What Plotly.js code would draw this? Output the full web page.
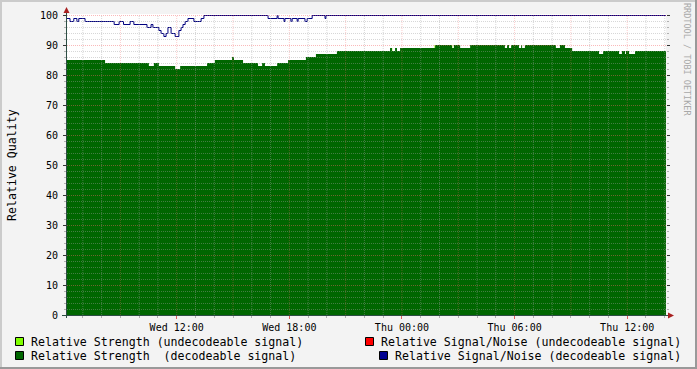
<!DOCTYPE html>
<html><head><meta charset="utf-8">
<script src="https://cdn.plot.ly/plotly-3.0.1.min.js"></script>
<style>html,body{margin:0;padding:0;background:#F3F3F3;overflow:hidden;}</style>
</head><body><div id="chart" style="width:697px;height:369px;"></div>
<script>
// Relative Strength (decodeable signal) - step changes
const strengthTimes = [
 '2024-01-03 06:09','2024-01-03 08:11','2024-01-03 10:31','2024-01-03 10:47','2024-01-03 11:03',
 '2024-01-03 11:55','2024-01-03 12:11','2024-01-03 13:37','2024-01-03 14:02','2024-01-03 14:57',
 '2024-01-03 15:03','2024-01-03 15:32','2024-01-03 16:20','2024-01-03 16:33','2024-01-03 16:42',
 '2024-01-03 17:21','2024-01-03 17:56','2024-01-03 18:53','2024-01-03 19:25','2024-01-03 19:57',
 '2024-01-03 20:32','2024-01-03 23:22','2024-01-03 23:28','2024-01-03 23:38','2024-01-03 23:44',
 '2024-01-03 23:54','2024-01-04 01:46','2024-01-04 02:40','2024-01-04 02:46','2024-01-04 03:06',
 '2024-01-04 03:38','2024-01-04 05:29','2024-01-04 05:36','2024-01-04 05:42','2024-01-04 05:49',
 '2024-01-04 06:14','2024-01-04 06:21','2024-01-04 06:24','2024-01-04 06:33','2024-01-04 08:12',
 '2024-01-04 08:25','2024-01-04 08:41','2024-01-04 09:04','2024-01-04 10:30','2024-01-04 10:43',
 '2024-01-04 11:34','2024-01-04 11:43','2024-01-04 11:53','2024-01-04 11:56','2024-01-04 12:06',
 '2024-01-04 12:25','2024-01-04 14:04'];
const strengthValues = [
 85,84,83,84,83,
 82,83,84,85,86,
 85,84,83,84,83,
 84,85,86,87,87,
 88,89,88,89,88,
 89,90,89,90,89,
 90,89,90,89,90,
 89,90,89,90,89,
 90,89,88,87,88,
 87,88,87,88,87,
 88,88];

// Relative Signal/Noise (decodeable signal) - step changes
const snrTimes = [
 '2024-01-03 06:09','2024-01-03 06:19','2024-01-03 06:31','2024-01-03 06:41','2024-01-03 06:47',
 '2024-01-03 07:07','2024-01-03 08:40','2024-01-03 08:56','2024-01-03 09:10','2024-01-03 09:31',
 '2024-01-03 09:43','2024-01-03 10:25','2024-01-03 10:38','2024-01-03 10:44','2024-01-03 11:03',
 '2024-01-03 11:10','2024-01-03 11:19','2024-01-03 11:26','2024-01-03 11:32','2024-01-03 11:42',
 '2024-01-03 11:55','2024-01-03 12:07','2024-01-03 12:14','2024-01-03 12:20','2024-01-03 12:27',
 '2024-01-03 12:36','2024-01-03 12:55','2024-01-03 13:18','2024-01-03 13:27','2024-01-03 16:52',
 '2024-01-03 17:21','2024-01-03 17:24','2024-01-03 17:43','2024-01-03 17:46','2024-01-03 18:05',
 '2024-01-03 18:09','2024-01-03 18:25','2024-01-03 18:28','2024-01-03 18:50','2024-01-03 18:57',
 '2024-01-03 19:13','2024-01-03 19:54','2024-01-03 19:57','2024-01-04 14:04'];
const snrValues = [
 99,98,99,98,99,
 98,97,98,97,98,
 97,96,97,96,95,
 94,93,94,96,94,
 93,95,96,97,98,
 99,98,99,100,99,
 100,99,98,99,98,
 99,98,99,98,99,
 100,99,100,100];

// Relative Strength (undecodeable signal) - short spikes
const undecTimes = ['2024-01-03 23:26','2024-01-03 23:29','2024-01-04 01:44','2024-01-04 01:47',
 '2024-01-04 02:38','2024-01-04 02:41','2024-01-04 05:51','2024-01-04 05:54'];
const undecValues = [89,0,90,0,90,0,90,0];

// Tick labels
const xTickVals = ['2024-01-03 12:00','2024-01-03 18:00','2024-01-04 00:00','2024-01-04 06:00','2024-01-04 12:00'];
const xTickText = ['Wed 12:00','Wed 18:00','Thu 00:00','Thu 06:00','Thu 12:00'];
const yTickVals = [0,10,20,30,40,50,60,70,80,90,100];

const legendLabels = ['Relative Strength (undecodeable signal)','Relative Signal/Noise (undecodeable signal)',
 'Relative Strength\u00a0\u00a0(decodeable signal)','Relative Signal/Noise (decodeable signal)'];
const legendColors = ['#80FF00','#FF0000','#006600','#000090'];

const FONT = 'DejaVu Sans Mono, monospace';
const PL = 67, PR = 666, PT = 14, PB = 315; // plot area pixels
const px = v => (v - PL) / (PR - PL);
const py = v => (PB - v) / (PB - PT);
const YMAX = 100 + 1/3;

const traces = [
 {x: undecTimes, y: undecValues, type:'scatter', mode:'lines', line:{shape:'hv', width:0, color:'#80FF00'},
  fill:'tozeroy', fillcolor:'#80FF00', showlegend:false, hoverinfo:'skip'},
 {x: strengthTimes, y: strengthValues, type:'scatter', mode:'lines', line:{shape:'hv', width:0, color:'#006600'},
  fill:'tozeroy', fillcolor:'#006600', showlegend:false},
 {x: snrTimes, y: snrValues, type:'scatter', mode:'lines', yaxis:'y2', line:{shape:'hv', width:1, color:'#000080'},
  showlegend:false}
];

const shapes = [];
const minorCol = 'rgba(160,160,160,0.42)';
const majorColH = 'rgba(245,100,100,0.45)';
const majorColV = 'rgba(245,100,100,0.32)';
// grid (drawn above the area, like rrdtool)
const t0 = Date.UTC(2024,0,3,7), t1 = Date.UTC(2024,0,4,14);
for (let t = t0; t <= t1; t += 3600000) {
  const h = new Date(t).getUTCHours();
  const major = h % 3 === 0;
  shapes.push({type:'line', layer:'above', xref:'x', yref:'y', x0:t, x1:t, y0:0, y1:100,
    line:{color: major ? majorColV : minorCol, width:1, dash:'1px,1px'}});
}
for (let v = 2; v <= 100; v += 2) {
  const major = v % 10 === 0;
  shapes.push({type:'line', layer:'above', xref:'paper', yref:'y', x0:0, x1:1, y0:v - 1/6, y1:v - 1/6,
    line:{color: major ? majorColH : minorCol, width:1, dash:'1px,1px'}});
}
// axes lines and arrows
shapes.push({type:'line', layer:'above', xref:'paper', yref:'paper', x0:px(66.5), x1:px(66.5), y0:py(318), y1:py(10),
  line:{color:'#2C4D43', width:1}});
shapes.push({type:'line', layer:'above', xref:'paper', yref:'paper', x0:px(62), x1:px(670), y0:py(315.5), y1:py(315.5),
  line:{color:'#2C4D43', width:1}});
shapes.push({type:'path', layer:'above', xref:'paper', yref:'paper',
  path:`M ${px(63.5)} ${py(13)} L ${px(69.5)} ${py(13)} L ${px(66.5)} ${py(7)} Z`,
  fillcolor:'#A82020', line:{width:0}});
shapes.push({type:'path', layer:'above', xref:'paper', yref:'paper',
  path:`M ${px(668)} ${py(312.5)} L ${px(668)} ${py(318.5)} L ${px(674)} ${py(315.5)} Z`,
  fillcolor:'#A82020', line:{width:0}});
// legend boxes
const boxPos = [[15,337],[365,337],[15,351],[379,351]];
boxPos.forEach((b,i) => {
  shapes.push({type:'rect', xref:'paper', yref:'paper', x0:px(b[0]+0.5), x1:px(b[0]+8.5), y0:py(b[1]+0.5), y1:py(b[1]+8.5),
    fillcolor: legendColors[i], line:{color:'#000', width:1}});
});
// frame
shapes.push({type:'rect', xref:'paper', yref:'paper', x0:px(0), x1:px(697), y0:py(0), y1:py(2), fillcolor:'#CBCBCB', line:{width:0}});
shapes.push({type:'rect', xref:'paper', yref:'paper', x0:px(0), x1:px(2), y0:py(0), y1:py(369), fillcolor:'#CBCBCB', line:{width:0}});
shapes.push({type:'rect', xref:'paper', yref:'paper', x0:px(695), x1:px(697), y0:py(0), y1:py(369), fillcolor:'#999999', line:{width:0}});
shapes.push({type:'rect', xref:'paper', yref:'paper', x0:px(0), x1:px(697), y0:py(367), y1:py(369), fillcolor:'#999999', line:{width:0}});

const textX = [30, 380, 30, 394];
const textY = [341.5, 341.5, 355.5, 355.5];
const annotations = legendLabels.map((t,i) => ({
  text: t, xref:'paper', yref:'paper', x: px(textX[i]), y: py(textY[i]), xanchor:'left', yanchor:'middle',
  showarrow:false, borderpad:0, font:{family:FONT, size:11.6, color:'#000'}
}));
annotations.push({text:'Relative Quality', xref:'paper', yref:'paper', x:px(12), y:py(165), textangle:-90,
  xanchor:'center', yanchor:'middle', showarrow:false, font:{family:FONT, size:11.6, color:'#000'}});
annotations.push({text:'RRDTOOL / TOBI OETIKER', xref:'paper', yref:'paper', x:px(687), y:py(59), textangle:90,
  xanchor:'center', yanchor:'middle', showarrow:false, font:{family:FONT, size:8.5, color:'#A8A8A8'}});

const layout = {
  width:697, height:369,
  margin:{l:PL, r:697-PR, t:PT, b:369-PB, pad:0},
  paper_bgcolor:'#F3F3F3', plot_bgcolor:'#FFFFFF',
  showlegend:false,
  font:{family:FONT, size:10, color:'#000'},
  xaxis:{type:'date', range:['2024-01-03 06:09:18','2024-01-04 14:04:00'],
    tickvals:xTickVals, ticktext:xTickText, showgrid:false, zeroline:false, showline:false,
    ticks:'outside', ticklen:3, tickcolor:'#E06060', tickfont:{family:FONT, size:10, color:'#000'},
    minor:{dtick:3600000, tick0:'2024-01-03 00:00', ticks:'outside', ticklen:2, tickcolor:'#B0B0B0', showgrid:false},
    fixedrange:true},
  yaxis:{range:[0, YMAX], tickvals:yTickVals, showgrid:false, zeroline:false, showline:false,
    ticks:'outside', ticklen:3, tickcolor:'#333', mirror:'ticks', ticklabelstandoff:3,
    tickfont:{family:FONT, size:10, color:'#000'},
    minor:{dtick:2, tick0:0, ticks:'outside', ticklen:2, tickcolor:'#B0B0B0', showgrid:false},
    fixedrange:true},
  // same scale as yaxis, shifted half a pixel so the 1px line sits on pixel rows like rrdtool
  yaxis2:{overlaying:'y', range:[1/6, YMAX + 1/6], visible:false, fixedrange:true},
  shapes: shapes,
  annotations: annotations
};

Plotly.newPlot('chart', traces, layout, {displayModeBar:false, staticPlot:true});
</script>
</body></html>
